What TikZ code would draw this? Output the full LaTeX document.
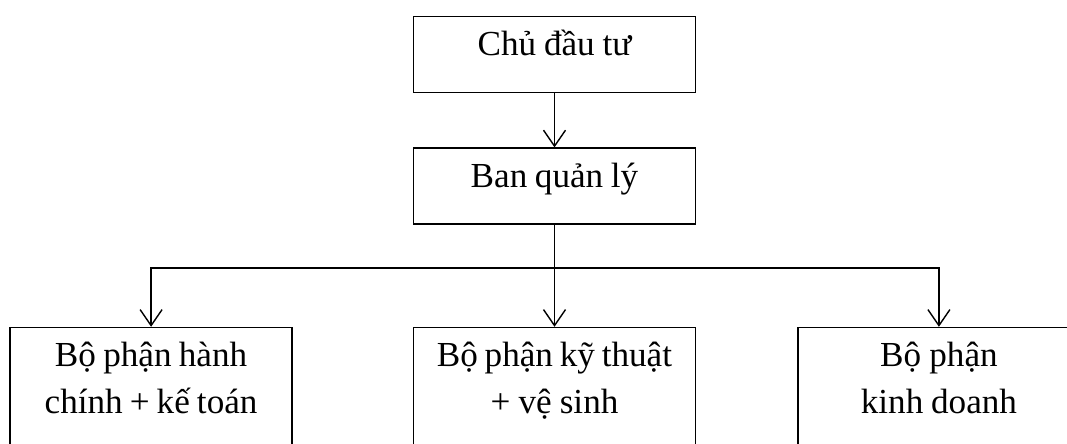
\documentclass[tikz,border=0pt]{standalone}
\usepackage{fontspec}
\setmainfont{Liberation Serif}
\usepackage{tikz}
\usetikzlibrary{positioning, arrows.meta}

\tikzset{
    unit/.style={draw, line width=0.8pt, text width=5.44cm, align=center,
        inner xsep=0.1cm, inner ysep=0.08cm, text height=0.7cm, text depth=0.66cm,
        font=\fontsize{20}{26.7}\selectfont,
        execute at begin node={\spaceskip=0.18em plus 0.05em\relax}},
    subunit/.style={unit, text depth=2.6cm},
    link/.style={line width=0.8pt, -{Straight Barb[length=3.2mm, width=4.4mm]}}
}

\begin{document}
\begin{tikzpicture}
        \useasboundingbox (0,0) rectangle (21.34,8.86);
        \clip (0,0) rectangle (21.34,8.86);
        \node[unit, anchor=north] (chu) at (11.09,8.54) {Chủ đầu tư};
        \node[unit, below=1.08cm of chu] (ban) {Ban quản lý};
        \node[subunit, below=2.04cm of ban] (kythuat) {Bộ phận kỹ thuật\\+ vệ sinh};
        \node[subunit, left=2.4cm of kythuat] (hanhchinh) {Bộ phận hành\\chính + kế toán};
        \node[subunit, right=2.02cm of kythuat] (kinhdoanh) {Bộ phận\\kinh doanh};
        \coordinate (fork) at (ban.south |- 0,3.5);
        \draw [link] (chu) -- (ban);
        \draw [line width=0.8pt] (ban.south) -- (fork);
        \foreach \b in {hanhchinh, kythuat, kinhdoanh}
            \draw [link] (fork) -| (\b.north);
    \end{tikzpicture}
\end{document}
